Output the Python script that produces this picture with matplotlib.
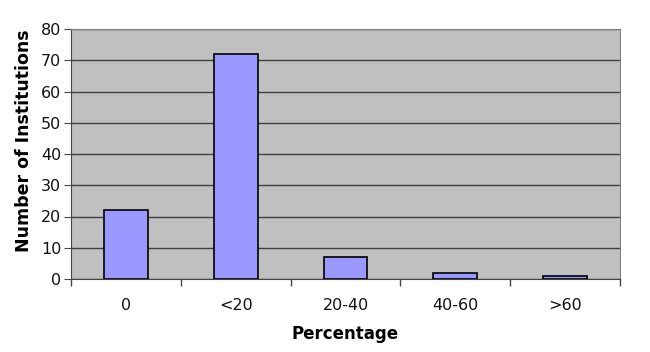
import matplotlib
matplotlib.use("Agg")
import matplotlib.pyplot as plt
import numpy as np

# data
categories = ["0", "<20", "20-40", "40-60", ">60"]
institutions = [22, 72, 7, 2, 1]
y_ticks = [0, 10, 20, 30, 40, 50, 60, 70, 80]

plt.rcParams['font.family'] = ['DejaVu Sans']

fig = plt.figure(figsize=(6.5, 3.52), dpi=100)
ax = fig.add_axes([71 / 650, 1 - 279 / 352, 549 / 650, 250 / 352])
ax.set_facecolor("#C0C0C0")

x = np.arange(len(categories))
ax.bar(x, institutions, width=0.4, color="#9999FF", edgecolor="black",
       linewidth=1.2, zorder=3)

ax.set_xlim(-0.5, len(categories) - 0.5)
ax.set_ylim(0, 80)
ax.set_yticks(y_ticks)
ax.yaxis.grid(True, color="#404040", linewidth=1.0, zorder=0)
ax.set_axisbelow(True)

# category labels centred, tick marks between categories
ax.set_xticks(x)
ax.set_xticklabels(categories, fontsize=11.5, color="#111111")
ax.tick_params(axis="x", length=0, pad=14)
ax.set_xticks(np.arange(-0.5, len(categories)), minor=True)
ax.tick_params(axis="x", which="minor", length=5, color="#444444", width=1)
ax.tick_params(axis="y", labelsize=11.5, labelcolor="#111111", length=5,
               color="#444444", pad=2)

for side in ["top", "right"]:
    ax.spines[side].set_color("#808080")
for side in ["left", "bottom"]:
    ax.spines[side].set_color("#444444")

ax.set_xlabel("Percentage", fontsize=12, fontweight="bold", labelpad=8)
ax.set_ylabel("Number of Institutions", fontsize=12.5, fontweight="bold")
ax.yaxis.set_label_coords(-38 / 549, 0.555)

fig.savefig("out.png", dpi=100)
